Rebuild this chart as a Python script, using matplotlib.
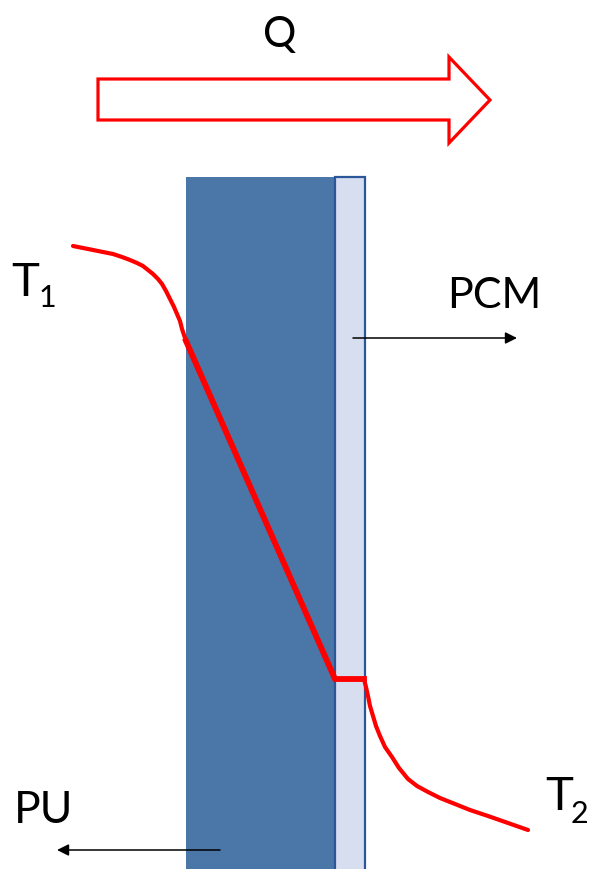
import matplotlib.pyplot as plt
import numpy as np
from matplotlib.patches import Polygon, Rectangle, FancyArrowPatch

plt.rcParams["font.family"] = ["Lato", "DejaVu Sans"]

# temperature profile (image pixel coordinates, y down)
left_x = [73, 83, 93, 103, 113, 122, 130, 137, 143, 148, 153, 158, 162, 166, 170, 174, 177, 180, 182, 184, 186]
left_y = [247, 249, 251, 253, 255, 258, 261, 264, 267, 271, 275, 280, 285, 292, 300, 308, 315, 322, 330, 336, 342]
wall_x = [186, 335, 364]
wall_y = [342, 680, 680]
right_x = [364, 366, 368, 370, 373, 376, 380, 385, 392, 399, 408, 417, 428, 440, 455, 470, 488, 508, 528]
right_y = [680, 688, 697, 707, 717, 727, 737, 748, 758, 769, 780, 787, 793, 799, 805, 811, 817, 824, 831]

# heat-flow arrow outline
q_arrow_x = [98, 449, 449, 490, 449, 449, 98]
q_arrow_y = [80, 80, 58, 101, 144, 121, 121]

fig = plt.figure(figsize=(5.9, 8.7), dpi=100)
ax = fig.add_axes([0, 0, 1, 1])
ax.set_xlim(0, 590)
ax.set_ylim(870, 0)
ax.axis("off")

# layers
ax.add_patch(Rectangle((186, 178), 149, 700, facecolor="#4A76A8", edgecolor="none", zorder=1))
ax.add_patch(Rectangle((335, 178), 29.5, 700, facecolor="#D7DEEF", edgecolor="#2B579A", linewidth=1.6, zorder=1))

# Q arrow
ax.add_patch(Polygon(np.column_stack([q_arrow_x, q_arrow_y]), closed=True,
                     facecolor="white", edgecolor="#FF0000", linewidth=2.3, joinstyle="miter", zorder=2))
ax.text(280, 47, "Q", fontsize=30, ha="center", va="baseline")

# temperature curve
ax.plot(left_x, left_y, color="#FF0000", lw=3.0, solid_capstyle="round", solid_joinstyle="round", zorder=3)
ax.plot(wall_x, wall_y, color="#FF0000", lw=4.2, solid_joinstyle="miter", zorder=3)
ax.plot(right_x, right_y, color="#FF0000", lw=3.0, solid_capstyle="round", solid_joinstyle="round", zorder=3)

# labels
ax.text(11, 296, "T", fontsize=34, ha="left", va="baseline")
ax.text(39, 307, "1", fontsize=22, ha="left", va="baseline")
ax.text(545, 810, "T", fontsize=34, ha="left", va="baseline")
ax.text(571, 823, "2", fontsize=22, ha="left", va="baseline")
ax.text(447, 308, "PCM", fontsize=31, ha="left", va="baseline")
ax.text(14, 823, "PU", fontsize=32, ha="left", va="baseline")

# direction arrows
for (x0, y0), (x1, y1) in [((353, 339), (517, 339)), ((220, 851), (57, 851))]:
    ax.add_patch(FancyArrowPatch((x0, y0), (x1, y1), arrowstyle="-|>,head_length=7,head_width=3.5",
                                 color="black", linewidth=1.1, shrinkA=0, shrinkB=0, zorder=4))

plt.savefig("out.png", dpi=100)
